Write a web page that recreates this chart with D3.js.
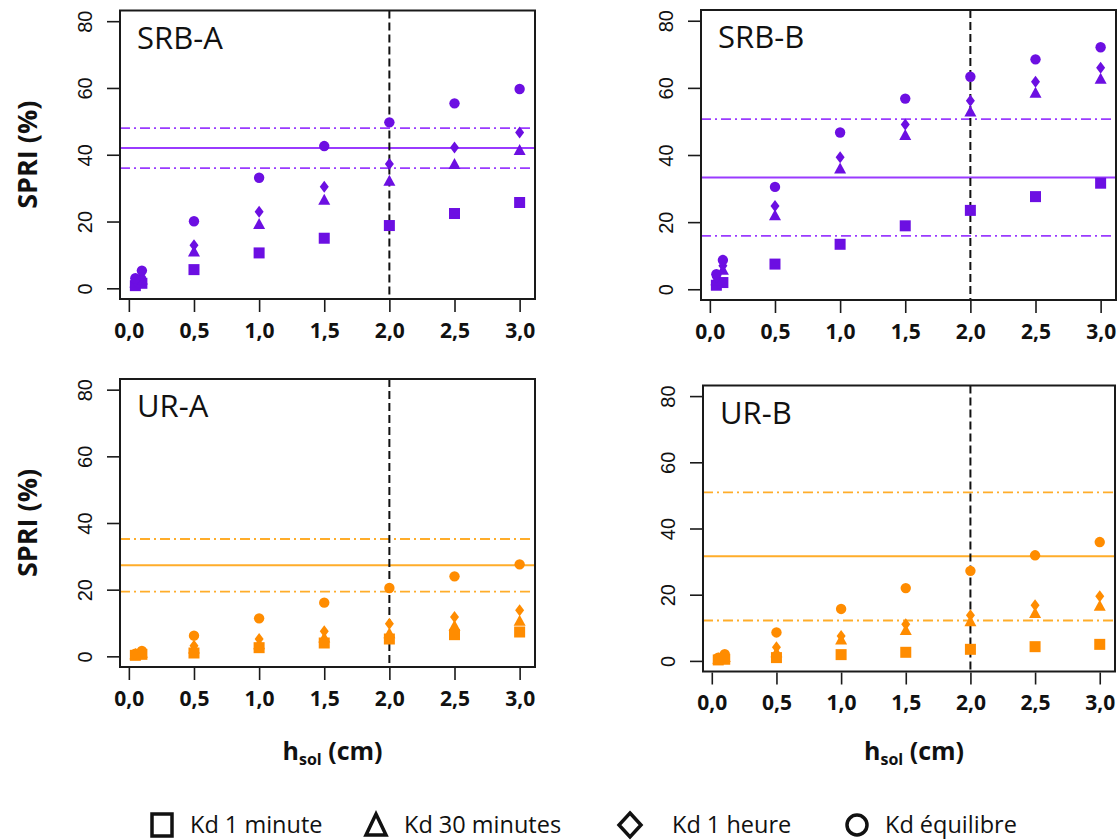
<!DOCTYPE html>
<html>
<head>
<meta charset="utf-8">
<script src="https://cdn.jsdelivr.net/npm/d3@7"></script>
<style>
  html, body { margin: 0; padding: 0; background: #fff; }
  svg { display: block; }
</style>
</head>
<body>
<svg id="chart" width="1118" height="840"></svg>
<script>
// ---------------- DATA ----------------
const hValues = [0.05, 0.1, 0.5, 1.0, 1.5, 2.0, 2.5, 3.0];
const xTicks = [0, 0.5, 1.0, 1.5, 2.0, 2.5, 3.0];
const yTicks = [0, 20, 40, 60, 80];
const seriesNames = ["Kd 1 minute", "Kd 30 minutes", "Kd 1 heure", "Kd équilibre"];
const panelNames = ["SRB-A", "SRB-B", "UR-A", "UR-B"];
const refX = 2.0;

// SRB-A
const srbA_1min  = [0.8, 1.5, 5.6, 10.6, 15.0, 18.8, 22.4, 25.7];
const srbA_30min = [1.6, 2.5, 10.9, 19.1, 26.4, 32.1, 37.1, 41.3];
const srbA_1h    = [2.2, 3.3, 12.9, 22.9, 30.4, 37.2, 42.2, 46.7];
const srbA_eq    = [3.0, 5.3, 20.1, 33.1, 42.6, 49.7, 55.4, 59.7];
const srbA_ref   = [36.0, 42.0, 48.0]; // lower, mean, upper

// SRB-B
const srbB_1min  = [1.2, 2.0, 7.5, 13.4, 18.9, 23.5, 27.6, 31.6];
const srbB_30min = [2.5, 5.7, 21.9, 35.8, 45.8, 52.8, 58.4, 62.6];
const srbB_1h    = [3.5, 7.0, 24.8, 39.3, 49.1, 56.2, 61.8, 66.0];
const srbB_eq    = [4.5, 8.7, 30.5, 46.7, 56.8, 63.3, 68.5, 72.1];
const srbB_ref   = [15.9, 33.3, 50.7];

// UR-A
const urA_1min  = [0.3, 0.6, 1.0, 2.6, 4.0, 5.2, 6.5, 7.3];
const urA_30min = [0.5, 0.9, 2.2, 3.5, 5.5, 6.8, 9.0, 10.5];
const urA_1h    = [0.6, 1.2, 3.2, 5.2, 7.5, 9.8, 11.8, 13.8];
const urA_eq    = [0.8, 1.6, 6.2, 11.4, 16.1, 20.5, 24.0, 27.6];
const urA_ref   = [19.4, 27.3, 35.2];

// UR-B
const urB_1min  = [0.3, 0.5, 1.0, 1.9, 2.6, 3.5, 4.3, 5.0];
const urB_30min = [0.5, 1.0, 2.5, 6.3, 9.2, 11.8, 14.3, 16.5];
const urB_1h    = [0.7, 1.5, 4.1, 7.5, 11.1, 13.8, 16.8, 19.5];
const urB_eq    = [1.0, 2.0, 8.6, 15.7, 22.0, 27.2, 31.9, 35.9];
const urB_ref   = [12.2, 31.6, 50.9];

// ---------------- LAYOUT / STYLE ----------------
const PURPLE_PT = "#6C0FE2", PURPLE_LN = "#9A3BFF";
const ORANGE_PT = "#FF8C00", ORANGE_LN = "#FFAD2A";

const panels = [
  { name: panelNames[0], series: [srbA_1min, srbA_30min, srbA_1h, srbA_eq], ref: srbA_ref,
    ptColor: PURPLE_PT, lnColor: PURPLE_LN, left: 120, top: 10.5, w: 415, h: 288.5, ylab: true, xlab: false },
  { name: panelNames[1], series: [srbB_1min, srbB_30min, srbB_1h, srbB_eq], ref: srbB_ref,
    ptColor: PURPLE_PT, lnColor: PURPLE_LN, left: 701, top: 10, w: 415, h: 290, ylab: false, xlab: false },
  { name: panelNames[2], series: [urA_1min, urA_30min, urA_1h, urA_eq], ref: urA_ref,
    ptColor: ORANGE_PT, lnColor: ORANGE_LN, left: 120, top: 379, w: 415, h: 288, ylab: true, xlab: true },
  { name: panelNames[3], series: [urB_1min, urB_30min, urB_1h, urB_eq], ref: urB_ref,
    ptColor: ORANGE_PT, lnColor: ORANGE_LN, left: 703, top: 385.5, w: 412, h: 286, ylab: false, xlab: true }
];

const svg = d3.select("#chart");
const fmt = d => d3.format(".1f")(d).replace(".", ",");

// marker generators (filled), centered at 0,0
const markers = [
  g => g.append("rect").attr("x", -5.5).attr("y", -5.5).attr("width", 11).attr("height", 11),
  g => g.append("path").attr("d", "M0,-6.5L6,4.5L-6,4.5Z"),
  g => g.append("path").attr("d", "M0,-6L4.5,0L0,6L-4.5,0Z"),
  g => g.append("circle").attr("r", 5.2)
];

panels.forEach(p => {
  const x = d3.scaleLinear().domain([-0.068, 3.118]).range([0, p.w]);
  const y = d3.scaleLinear().domain([-3.2, 83.2]).range([p.h, 0]);
  const g = svg.append("g").attr("transform", `translate(${p.left},${p.top})`);

  const clipId = "clip-" + p.name;
  g.append("clipPath").attr("id", clipId).append("rect").attr("width", p.w).attr("height", p.h);
  const inner = g.append("g").attr("clip-path", `url(#${clipId})`);

  // reference horizontal lines
  p.ref.forEach((v, i) => {
    inner.append("line")
      .attr("x1", 0).attr("x2", p.w)
      .attr("y1", y(v)).attr("y2", y(v))
      .attr("stroke", p.lnColor)
      .attr("stroke-width", i === 1 ? 2 : 1.8)
      .attr("stroke-dasharray", i === 1 ? null : "10,4,2,4");
  });

  // vertical dashed line at h = 2
  inner.append("line")
    .attr("x1", x(refX)).attr("x2", x(refX))
    .attr("y1", 0).attr("y2", p.h)
    .attr("stroke", "#111").attr("stroke-width", 2)
    .attr("stroke-dasharray", "8,4");

  // points
  p.series.forEach((vals, si) => {
    vals.forEach((v, i) => {
      const mg = inner.append("g")
        .attr("transform", `translate(${x(hValues[i])},${y(v)})`)
        .attr("fill", p.ptColor);
      markers[si](mg);
    });
  });

  // box
  g.append("rect").attr("width", p.w).attr("height", p.h)
    .attr("fill", "none").attr("stroke", "#1a1a1a").attr("stroke-width", 2);

  // x axis
  const xa = g.append("g").attr("transform", `translate(0,${p.h + 1})`)
    .call(d3.axisBottom(x).tickValues(xTicks).tickSize(12).tickPadding(8).tickFormat(fmt));
  xa.select(".domain").remove();
  xa.selectAll(".tick line").attr("stroke", "#1a1a1a").attr("stroke-width", 1.6);
  xa.selectAll(".tick text")
    .attr("font-family", "'Open Sans', sans-serif").attr("font-weight", "bold")
    .attr("font-size", 21).attr("fill", "#111").attr("y", 23);

  // y axis
  const ya = g.append("g").attr("transform", "translate(-1,0)")
    .call(d3.axisLeft(y).tickValues(yTicks).tickSize(12).tickFormat(d3.format("d")));
  ya.select(".domain").remove();
  ya.selectAll(".tick line").attr("stroke", "#1a1a1a").attr("stroke-width", 1.6);
  ya.selectAll(".tick text")
    .attr("font-family", "'Liberation Sans', Arial, sans-serif")
    .attr("font-size", 20).attr("fill", "#111")
    .attr("text-anchor", "middle")
    .attr("transform", "rotate(-90)")
    .attr("x", 0).attr("y", -34).attr("dy", "0.36em");

  // panel title
  g.append("text").attr("x", 17).attr("y", 38)
    .attr("font-family", "'Open Sans', sans-serif")
    .attr("font-size", 31).attr("fill", "#111")
    .text(p.name);

  // y label
  if (p.ylab) {
    svg.append("text")
      .attr("transform", `translate(27,${p.top + p.h / 2}) rotate(-90)`)
      .attr("text-anchor", "middle").attr("dy", "0.36em")
      .attr("font-family", "'Open Sans', sans-serif").attr("font-weight", "bold")
      .attr("font-size", 27).attr("fill", "#111")
      .text("SPRI (%)");
  }
  // x label
  if (p.xlab) {
    const t = svg.append("text")
      .attr("x", p.left + p.w / 2 + 5).attr("y", 760)
      .attr("text-anchor", "middle")
      .attr("font-family", "'Open Sans', sans-serif").attr("font-weight", "bold")
      .attr("font-size", 25).attr("fill", "#111");
    t.append("tspan").text("h");
    t.append("tspan").attr("font-size", 16).attr("dy", 5).text("sol");
    t.append("tspan").attr("dy", -5).text(" (cm)");
  }
});

// ---------------- LEGEND ----------------
const legendX = [162, 376, 630, 857];
const legend = svg.append("g");
const openMarkers = [
  g => g.append("rect").attr("x", -10).attr("y", -11).attr("width", 20).attr("height", 22),
  g => g.append("path").attr("d", "M0,-11L10,10L-10,10Z"),
  g => g.append("path").attr("d", "M0,-12L11,0L0,12L-11,0Z"),
  g => g.append("circle").attr("r", 10)
];
seriesNames.forEach((name, i) => {
  const mg = legend.append("g")
    .attr("transform", `translate(${legendX[i]},825)`)
    .attr("fill", "none").attr("stroke", "#111").attr("stroke-width", 3.5);
  openMarkers[i](mg);
  legend.append("text")
    .attr("x", legendX[i] + (i === 2 ? 42 : 28)).attr("y", 833)
    .attr("font-family", "'Open Sans', sans-serif")
    .attr("font-size", 23.5).attr("fill", "#111")
    .text(name);
});
</script>
</body>
</html>
